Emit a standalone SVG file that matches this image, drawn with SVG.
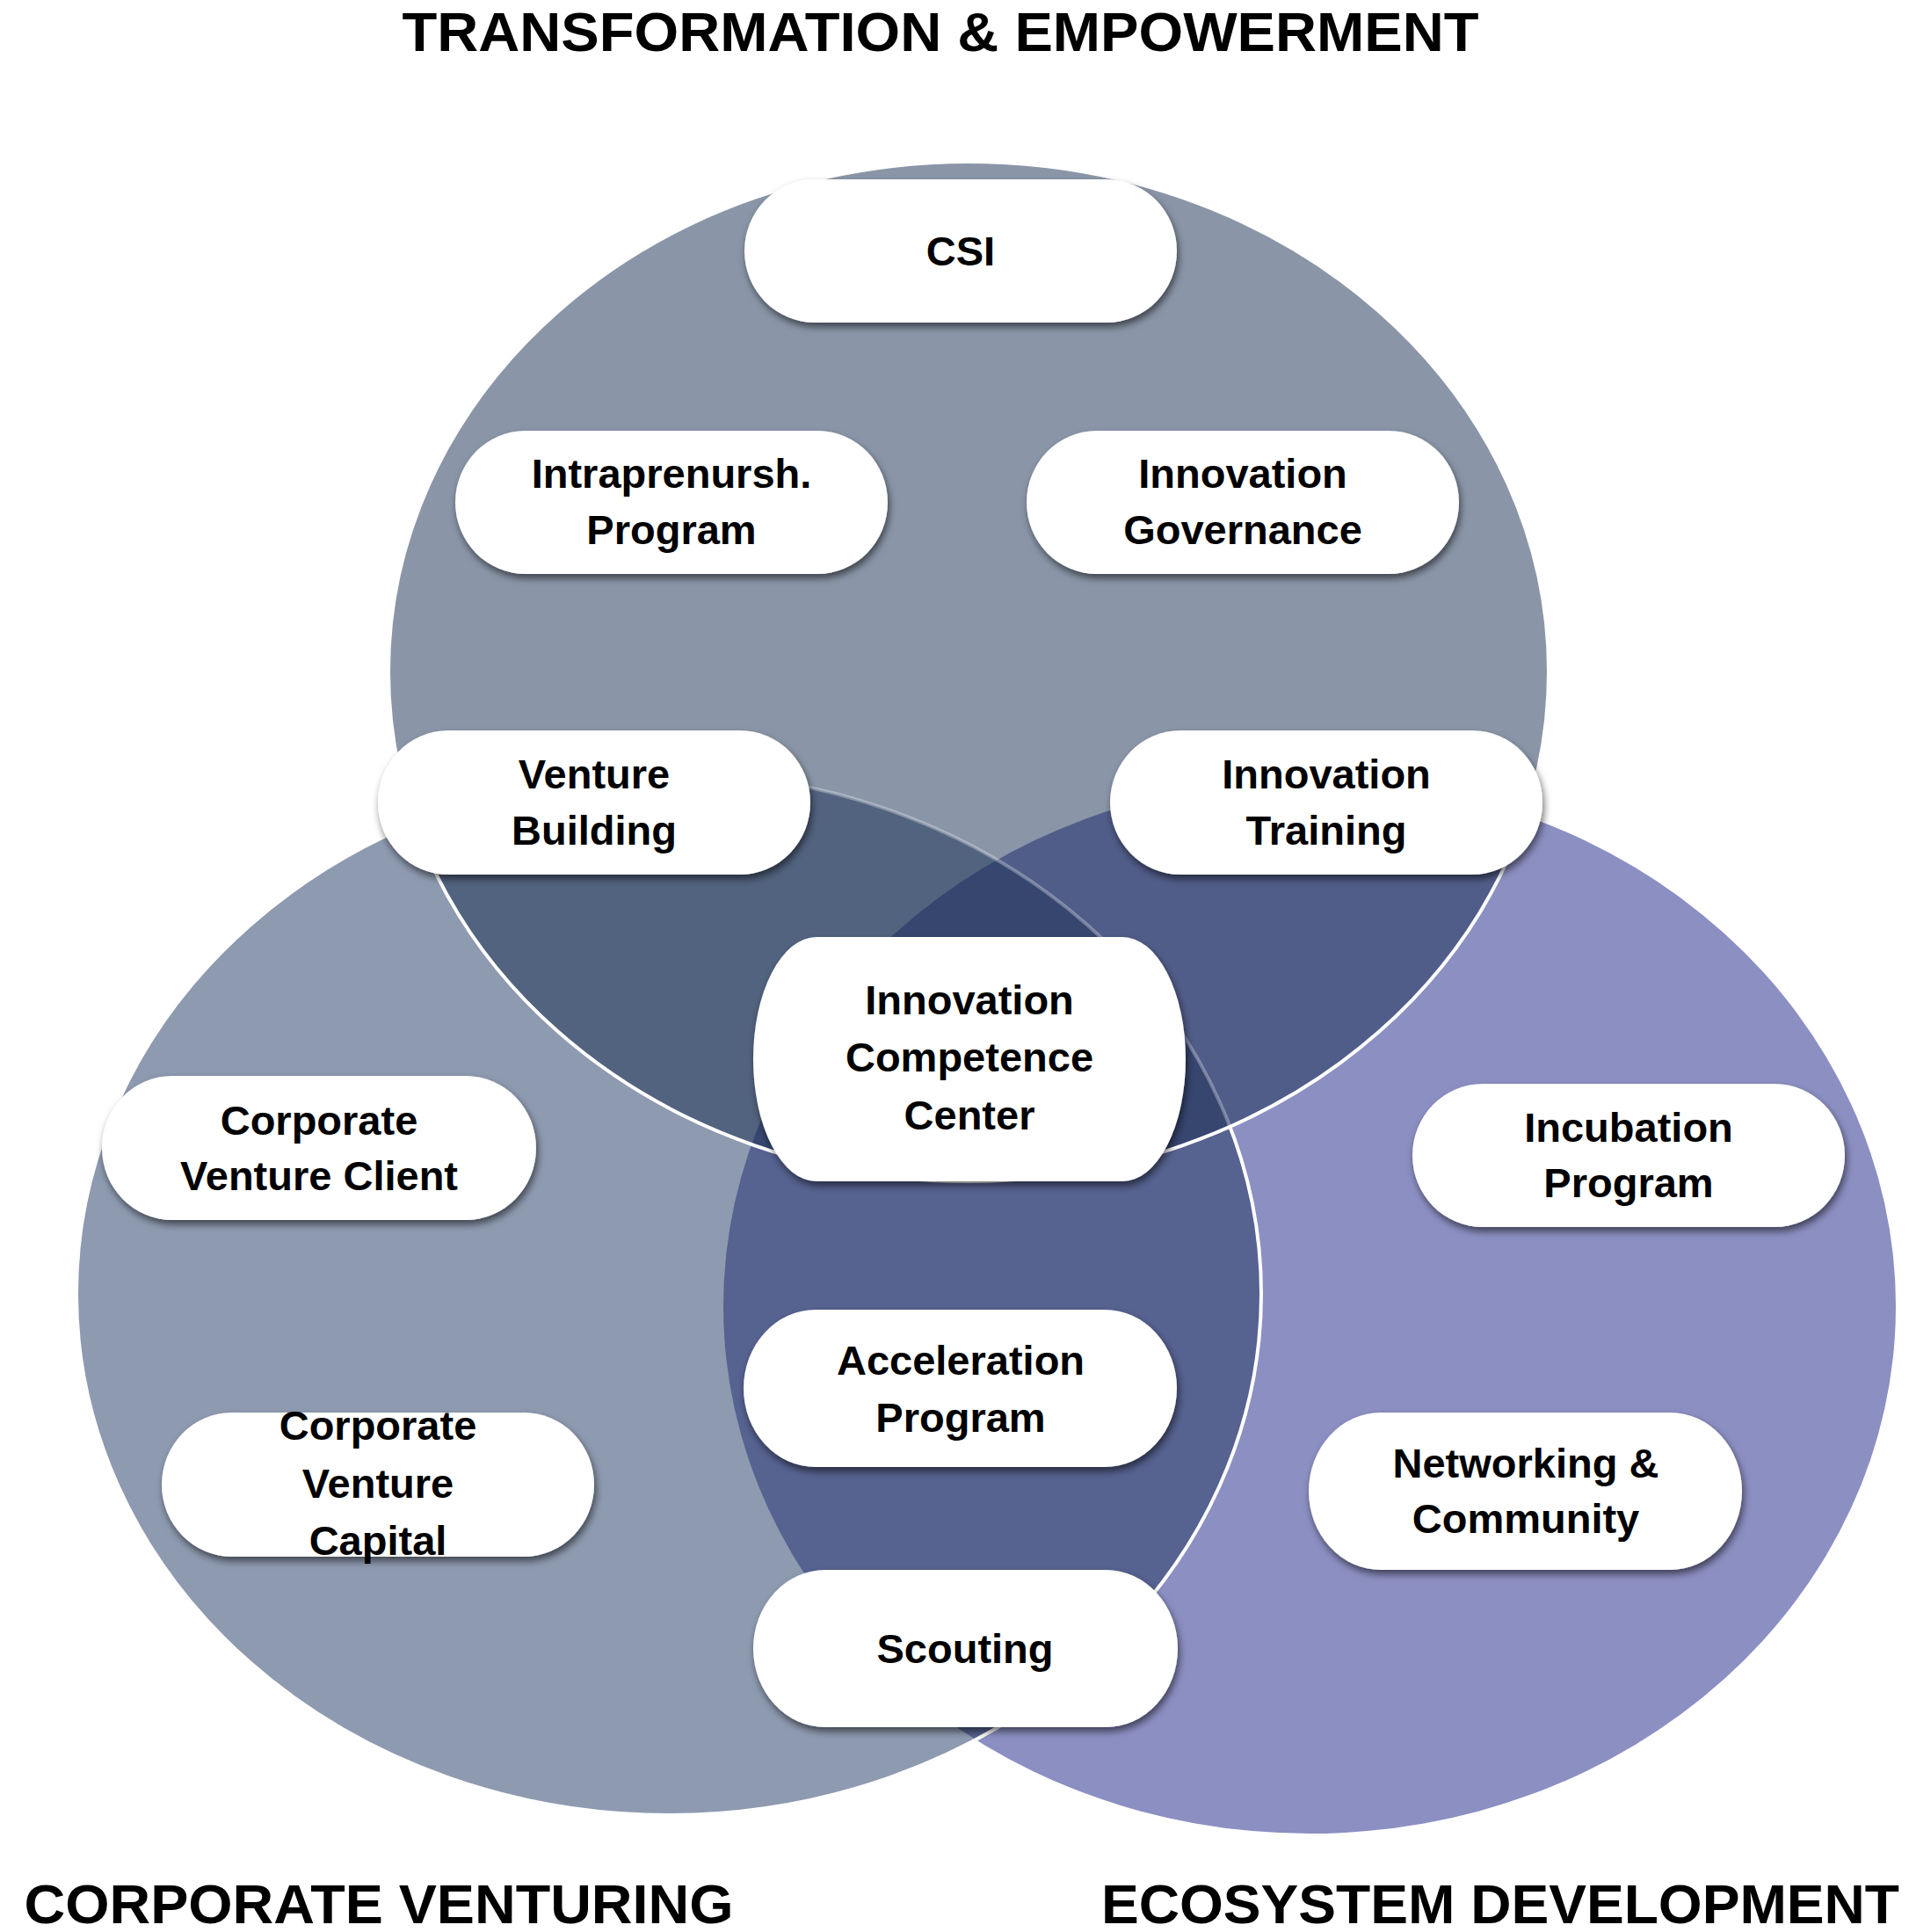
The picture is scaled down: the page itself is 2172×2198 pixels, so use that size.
<svg xmlns="http://www.w3.org/2000/svg" width="2172" height="2198" viewBox="0 0 2172 2198">
<style>
.t{font-family:"Liberation Sans",Arial,sans-serif;font-weight:700;fill:#000;text-anchor:middle}
.n{font-size:47px}
.h{font-size:63px}
.pill{fill:#fff;filter:url(#sh)}
</style>
<defs>
<filter id="sh" x="-10%" y="-20%" width="125%" height="150%">
<feDropShadow dx="2" dy="5" stdDeviation="4" flood-color="#000" flood-opacity="0.55"/>
</filter>
<ellipse id="eT" cx="1102" cy="764" rx="660" ry="580"/>
<ellipse id="eL" cx="761" cy="1472" rx="674" ry="593"/>
<ellipse id="eR" cx="1490" cy="1486" rx="667" ry="600"/>
<clipPath id="cT"><use href="#eT"/></clipPath>
<clipPath id="cL"><use href="#eL"/></clipPath>
<clipPath id="cR"><use href="#eR"/></clipPath>
</defs>
<rect width="2172" height="2198" fill="#fff"/>
<g id="venn">
<use href="#eR" fill="#8C8FC2"/>
<use href="#eL" fill="#8E9AB0"/>
<use href="#eL" fill="#566290" clip-path="url(#cR)"/>
<use href="#eL" fill="none" stroke="#fff" stroke-width="4"/>
<use href="#eT" fill="#8A96A8"/>
<use href="#eT" fill="#52637F" clip-path="url(#cL)"/>
<use href="#eT" fill="#515D89" clip-path="url(#cR)"/>
<g clip-path="url(#cL)"><use href="#eT" fill="#36466F" clip-path="url(#cR)"/></g>
<use href="#eL" fill="none" stroke="#fff" stroke-opacity="0.3" stroke-width="4" clip-path="url(#cT)"/>
<use href="#eT" fill="none" stroke="#fff" stroke-width="4"/>
</g>
<g id="titles">
<text class="t h" x="1070" y="58" textLength="1225" lengthAdjust="spacingAndGlyphs">TRANSFORMATION &amp; EMPOWERMENT</text>
<text class="t h" x="431" y="2188" textLength="807" lengthAdjust="spacingAndGlyphs">CORPORATE VENTURING</text>
<text class="t h" x="1707" y="2188" textLength="908" lengthAdjust="spacingAndGlyphs">ECOSYSTEM DEVELOPMENT</text>
</g>
<g id="node-csi">
<rect class="pill" x="847" y="204" width="492" height="163" rx="80" ry="81.5"/>
<text class="t n" x="1093" y="302">CSI</text>
</g>
<g id="node-intrapreneurship">
<rect class="pill" x="518" y="490" width="492" height="163" rx="80" ry="81.5"/>
<text class="t n" x="764" y="555">Intraprenursh.</text>
<text class="t n" x="764" y="619">Program</text>
</g>
<g id="node-governance">
<rect class="pill" x="1168" y="490" width="492" height="163" rx="80" ry="81.5"/>
<text class="t n" x="1414" y="555">Innovation</text>
<text class="t n" x="1414" y="619">Governance</text>
</g>
<g id="node-venture-building">
<rect class="pill" x="430" y="831" width="492" height="164" rx="80" ry="82"/>
<text class="t n" x="676" y="897">Venture</text>
<text class="t n" x="676" y="961">Building</text>
</g>
<g id="node-training">
<rect class="pill" x="1263" y="831" width="492" height="164" rx="80" ry="82"/>
<text class="t n" x="1509" y="897">Innovation</text>
<text class="t n" x="1509" y="961">Training</text>
</g>
<g id="node-icc">
<rect class="pill" x="857" y="1066" width="492" height="278" rx="72" ry="139"/>
<text class="t n" x="1103" y="1154">Innovation</text>
<text class="t n" x="1103" y="1219">Competence</text>
<text class="t n" x="1103" y="1285">Center</text>
</g>
<g id="node-cvc">
<rect class="pill" x="116" y="1224" width="494" height="164" rx="80" ry="82"/>
<text class="t n" x="363" y="1291">Corporate</text>
<text class="t n" x="363" y="1354">Venture Client</text>
</g>
<g id="node-incubation">
<rect class="pill" x="1607" y="1233" width="492" height="163" rx="80" ry="81.5"/>
<text class="t n" x="1853" y="1299">Incubation</text>
<text class="t n" x="1853" y="1362">Program</text>
</g>
<g id="node-cvcapital">
<rect class="pill" x="184" y="1607" width="492" height="164" rx="80" ry="82"/>
<text class="t n" x="430" y="1638">Corporate</text>
<text class="t n" x="430" y="1704">Venture</text>
<text class="t n" x="430" y="1769">Capital</text>
</g>
<g id="node-acceleration">
<rect class="pill" x="846" y="1490" width="493" height="179" rx="82" ry="89.5"/>
<text class="t n" x="1093" y="1564">Acceleration</text>
<text class="t n" x="1093" y="1629">Program</text>
</g>
<g id="node-networking">
<rect class="pill" x="1489" y="1607" width="493" height="179" rx="82" ry="89.5"/>
<text class="t n" x="1736" y="1681">Networking &amp;</text>
<text class="t n" x="1736" y="1744">Community</text>
</g>
<g id="node-scouting">
<rect class="pill" x="857" y="1786" width="483" height="179" rx="82" ry="89.5"/>
<text class="t n" x="1098" y="1892">Scouting</text>
</g>
</svg>
